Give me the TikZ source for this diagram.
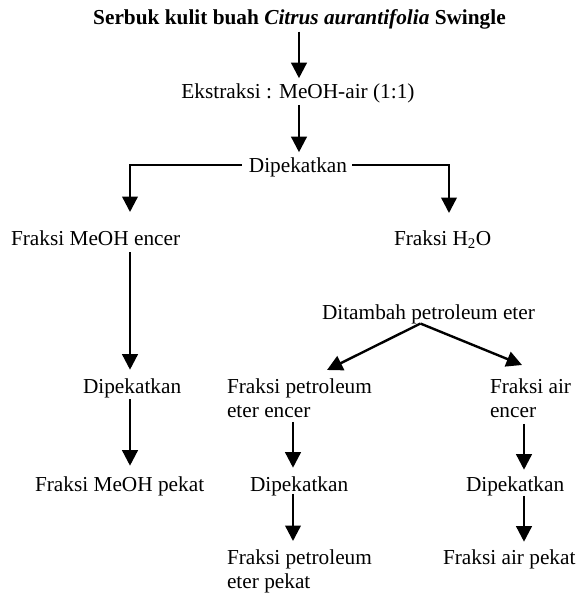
\documentclass[tikz,border=0pt]{standalone}
\usepackage{fontspec}
\setmainfont{Liberation Serif}
\usetikzlibrary{arrows.meta}
\begin{document}
\begin{tikzpicture}[x=1pt,y=-1pt,
  txt/.style={inner sep=0pt, outer sep=0pt, font=\fontsize{21.3}{24.5}\selectfont},
  arr/.style={line width=2.4pt, -{Triangle[width=15.5pt,length=15.5pt]}}]
\useasboundingbox (0,0) rectangle (577,594);
% column coordinates
\coordinate (cC) at (299,0);
\coordinate (cL) at (130,0);
\coordinate (cM) at (293,0);
\coordinate (cR) at (524,0);
\coordinate (tipL) at (130,212);
\coordinate (tipH) at (449,213);
\coordinate (tipP) at (327,370);
\coordinate (tipA) at (522,365);
% nodes
\node[txt, anchor=base] (title) at (299.5,25) {\textbf{Serbuk kulit buah \textit{Citrus aurantifolia} Swingle}};
\node[txt, anchor=base] (ekst) at (298,98) {Ekstraksi : MeOH-air (1:1)};
\node[txt, anchor=base] (dip1) at (298,172) {Dipekatkan};
\node[txt, anchor=base west] (meohE) at (11,245) {Fraksi MeOH encer};
\node[txt, anchor=base west] (h2o) at (394,245) {Fraksi H\textsubscript{2}O};
\node[txt, anchor=base west] (tambah) at (322,319) {Ditambah petroleum eter};
\node[txt, anchor=base west] (dipL) at (83,393) {Dipekatkan};
\node[txt, anchor=north west, align=left] (petE) at (227,378.5) {Fraksi petroleum\\eter encer};
\node[txt, anchor=north west, align=left] (airE) at (490,378.5) {Fraksi air\\encer};
\node[txt, anchor=base west] (meohP) at (35,491) {Fraksi MeOH pekat};
\node[txt, anchor=base west] (dipM) at (250,491) {Dipekatkan};
\node[txt, anchor=base west] (dipR) at (466,491) {Dipekatkan};
\node[txt, anchor=north west, align=left] (petP) at (227,549.5) {Fraksi petroleum\\eter pekat};
\node[txt, anchor=base west] (airP) at (443,564) {Fraksi air pekat};
% connectors
\draw[arr, shorten <=2pt, shorten >=5pt] (title.south -| cC) -- (ekst.north -| cC);
\draw[arr, shorten <=2.4pt, shorten >=5pt] (ekst.south -| cC) -- (dip1.north -| cC);
\draw[arr] ([xshift=-7pt,yshift=2pt]dip1.west) -| (tipL);
\draw[arr] ([xshift=5pt,yshift=2pt]dip1.east) -| (tipH);
\draw[arr, shorten <=7pt, shorten >=8.5pt] (meohE.south -| cL) -- (dipL.north -| cL);
\draw[arr, shorten <=1.5pt, shorten >=10.5pt] (dipL.south -| cL) -- (meohP.north -| cL);
\draw[arr] ([xshift=-8pt]tambah.south) -- (tipP);
\draw[arr] ([xshift=-8pt]tambah.south) -- (tipA);
\draw[arr, shorten <=4pt, shorten >=8.5pt] (petE.south -| cM) -- (dipM.north -| cM);
\draw[arr, shorten <=-1.6pt, shorten >=8.5pt] (dipM.south -| cM) -- (petP.north -| cM);
\draw[arr, shorten <=6pt, shorten >=6.5pt] (airE.south -| cR) -- (dipR.north -| cR);
\draw[arr, shorten <=0.4pt, shorten >=7.5pt] (dipR.south -| cR) -- (airP.north -| cR);
\end{tikzpicture}
\end{document}
